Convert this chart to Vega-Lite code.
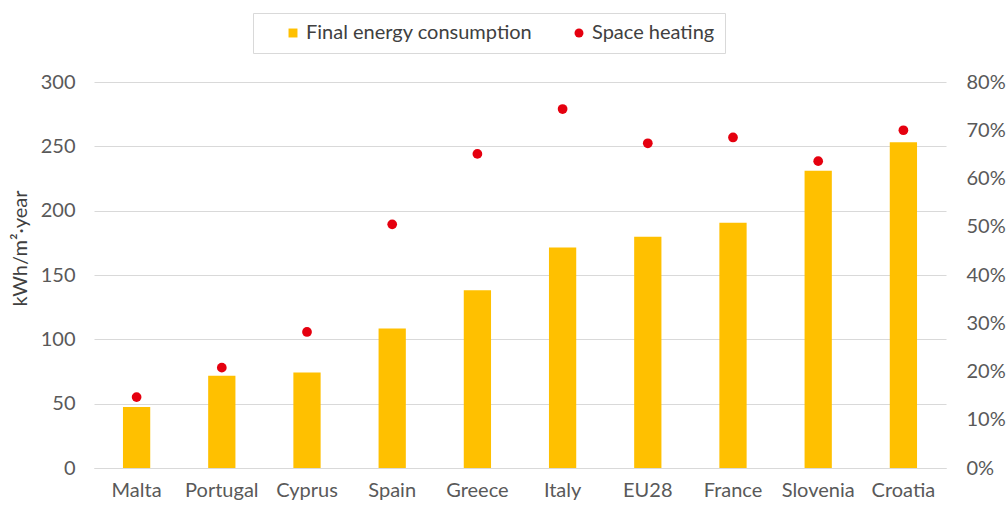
{
  "$schema": "https://vega.github.io/schema/vega-lite/v6.json",
  "width": 852,
  "height": 386,
  "autosize": {"type": "none"},
  "padding": {"left": 94, "top": 82, "right": 62, "bottom": 40},
  "background": "white",
  "data": {
    "values": [
      {"country": "Malta", "fec": 47.4, "heating": 0.147},
      {"country": "Portugal", "fec": 71.6, "heating": 0.208},
      {"country": "Cyprus", "fec": 74.2, "heating": 0.282},
      {"country": "Spain", "fec": 108.4, "heating": 0.505},
      {"country": "Greece", "fec": 138.2, "heating": 0.651},
      {"country": "Italy", "fec": 171.4, "heating": 0.744},
      {"country": "EU28", "fec": 179.7, "heating": 0.673},
      {"country": "France", "fec": 190.6, "heating": 0.685},
      {"country": "Slovenia", "fec": 231.0, "heating": 0.636},
      {"country": "Croatia", "fec": 253.1, "heating": 0.700}
    ]
  },
  "encoding": {
    "x": {
      "field": "country",
      "type": "nominal",
      "sort": null,
      "scale": {"paddingInner": 0.68, "paddingOuter": 0.34},
      "axis": {
        "title": null,
        "labelAngle": 0,
        "ticks": false,
        "domainColor": "#D9D9D9",
        "domainWidth": 1,
        "labelPadding": 12
      }
    }
  },
  "layer": [
    {
      "mark": {"type": "bar"},
      "encoding": {
        "y": {
          "field": "fec",
          "type": "quantitative",
          "scale": {"domain": [0, 300], "nice": false},
          "axis": {
            "orient": "left",
            "values": [0, 50, 100, 150, 200, 250, 300],
            "grid": true,
            "gridColor": "#D9D9D9",
            "domain": false,
            "ticks": false,
            "labelPadding": 19,
            "title": "kWh/m²·year",
            "titleX": -68,
            "titleY": 166,
            "titleAngle": -90,
            "titleAlign": "center",
            "titleBaseline": "alphabetic"
          }
        },
        "color": {
          "datum": "Final energy consumption",
          "type": "nominal",
          "scale": {
            "domain": ["Final energy consumption", "Space heating"],
            "range": ["#FFC000", "#E5000F"]
          },
          "legend": {"title": null}
        }
      }
    },
    {
      "mark": {"type": "point", "filled": true, "size": 95, "opacity": 1},
      "encoding": {
        "y": {
          "field": "heating",
          "type": "quantitative",
          "scale": {"domain": [0, 0.8], "nice": false},
          "axis": {
            "orient": "right",
            "values": [0, 0.1, 0.2, 0.3, 0.4, 0.5, 0.6, 0.7, 0.8],
            "format": ".0%",
            "grid": false,
            "domain": false,
            "ticks": false,
            "labelPadding": 20,
            "labelAlign": "left",
            "title": null
          }
        },
        "color": {
          "datum": "Space heating",
          "type": "nominal",
          "legend": {"title": null}
        },
        "shape": {
          "datum": "Space heating",
          "type": "nominal",
          "scale": {
            "domain": ["Final energy consumption", "Space heating"],
            "range": ["square", "circle"]
          },
          "legend": {"title": null}
        }
      }
    }
  ],
  "resolve": {"scale": {"y": "independent"}},
  "config": {
    "view": {"stroke": null},
    "font": "Lato",
    "axis": {
      "labelFont": "Lato",
      "labelFontSize": 20,
      "labelColor": "#595959",
      "titleFont": "Lato",
      "titleFontSize": 20,
      "titleFontWeight": "normal",
      "titleColor": "#404040"
    },
    "legend": {
      "orient": "none",
      "legendX": 159,
      "legendY": -69,
      "direction": "horizontal",
      "labelFont": "Lato",
      "labelFontSize": 20,
      "labelColor": "#404040",
      "labelLimit": 400,
      "strokeColor": "#D9D9D9",
      "padding": 10,
      "columnPadding": 16,
      "symbolSize": 80,
      "symbolStrokeWidth": 0,
      "symbolOffset": 20,
      "labelOffset": 3
    }
  }
}
